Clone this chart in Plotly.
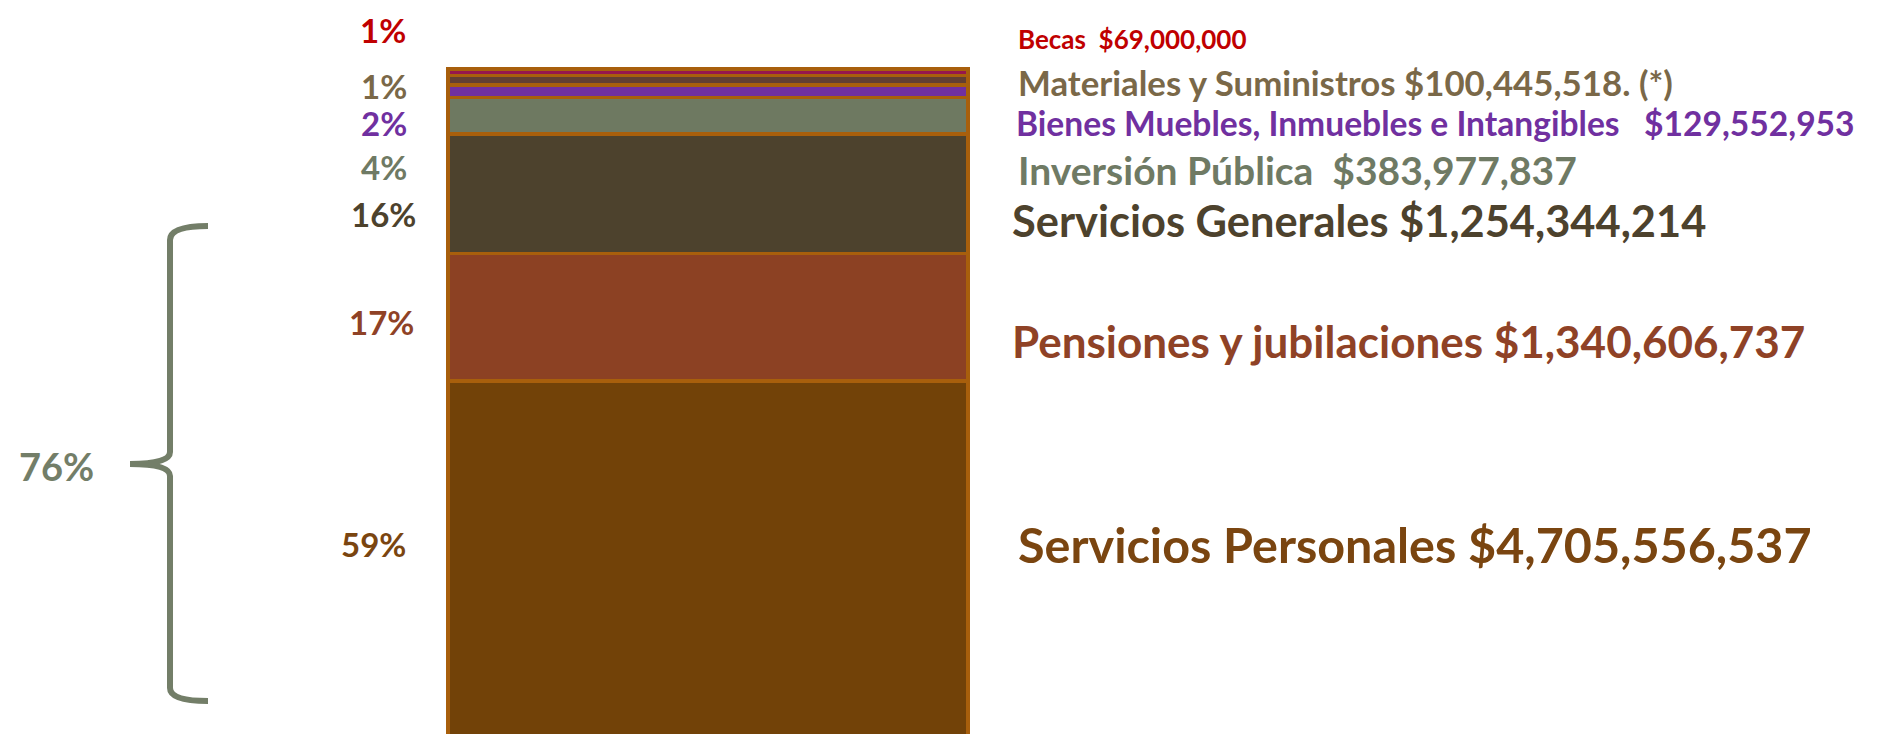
import plotly.graph_objects as go

# stacked from bottom to top
categories = [
    "Servicios Personales",
    "Pensiones y jubilaciones",
    "Servicios Generales",
    "Inversión Pública",
    "Bienes Muebles, Inmuebles e Intangibles",
    "Materiales y Suministros",
    "Becas",
]
amounts = [4705556537, 1340606737, 1254344214, 383977837, 129552953, 100445518, 69000000]
amount_text = [
    " $4,705,556,537",
    " $1,340,606,737",
    " $1,254,344,214",
    "  $383,977,837",
    "   $129,552,953",
    " $100,445,518. (*)",
    "  $69,000,000",
]
percent_labels = ["59%", "17%", "16%", "4%", "2%", "1%", "1%"]
group_label = "76%"

W, H = 1879, 734
bar_fill = ["#724208", "#8C4123", "#4D422D", "#6E7961", "#7030A0", "#623F32", "#96174C"]
text_color = ["#7A4510", "#8F4226", "#4D422D", "#6F7A64", "#7030A0", "#7A6848", "#C00000"]
label_size = [48.5, 44, 43.4, 39, 33.6, 34.8, 26]
label_pos = [(1008, 536), (1002, 333), (1002, 212), (1008, 162), (1006, 115), (1008, 74), (1008, 31)]
pct_pos = [(365, 536), (373, 314), (375, 206), (376, 159), (376, 115), (376, 78), (375, 22)]
brace_color = "#737E68"

FONT = "Lato, Open Sans, sans-serif"


def px(x, y):
    return x / W, 1 - y / H


fig = go.Figure()
for name, val, col in zip(categories, amounts, bar_fill):
    fig.add_trace(go.Bar(
        x=[0], y=[val], width=1, name=name,
        marker=dict(color=col, line=dict(color="#A85F0C", width=3.5)),
        hoverinfo="name+y",
    ))

# axis range: bar top near y=61px, servicios personales boundary near 373px
total = sum(amounts)
k = (373 - 61) / (total - amounts[0])
y_top = total + 61 / k
y_bot = total - (H - 61) / k
x_lo = -0.5 - 440 / 520
x_hi = 0.5 + (W - 960) / 520

annotations = []
for i, name in enumerate(categories):
    x, y = px(*label_pos[i])
    annotations.append(dict(
        x=x, y=y, xref="paper", yref="paper", xanchor="left", yanchor="middle",
        text=f"<b>{name}{amount_text[i]}</b>",
        showarrow=False,
        font=dict(family=FONT, size=label_size[i], color=text_color[i]),
    ))
    x, y = px(*pct_pos[i])
    annotations.append(dict(
        x=x, y=y, xref="paper", yref="paper", xanchor="center", yanchor="middle",
        text=f"<b>{percent_labels[i]}</b>", showarrow=False,
        font=dict(family=FONT, size=33, color=text_color[i]),
    ))

x, y = px(48, 458)
annotations.append(dict(
    x=x, y=y, xref="paper", yref="paper", xanchor="center", yanchor="middle",
    text=f"<b>{group_label}</b>", showarrow=False,
    font=dict(family=FONT, size=38, color=brace_color),
))

# curly brace grouping the two bottom segments
pts = [
    ("M", [(200, 218)]),
    ("Q", [(162, 218), (162, 232)]),
    ("L", [(162, 444)]),
    ("Q", [(162, 456), (122, 456)]),
    ("Q", [(162, 456), (162, 468)]),
    ("L", [(162, 680)]),
    ("Q", [(162, 693), (200, 693)]),
]
path = ""
for cmd, cs in pts:
    path += cmd + " " + " ".join("%.5f,%.5f" % px(a, b) for a, b in cs) + " "

fig.add_shape(type="path", path=path.strip(), xref="paper", yref="paper",
              line=dict(color=brace_color, width=6))

fig.update_layout(
    width=W, height=H,
    margin=dict(l=0, r=0, t=0, b=0),
    barmode="stack",
    showlegend=False,
    plot_bgcolor="white",
    paper_bgcolor="white",
    annotations=annotations,
    xaxis=dict(range=[x_lo, x_hi], visible=False),
    yaxis=dict(range=[y_bot, y_top], visible=False),
)

fig.write_html("out.html")
